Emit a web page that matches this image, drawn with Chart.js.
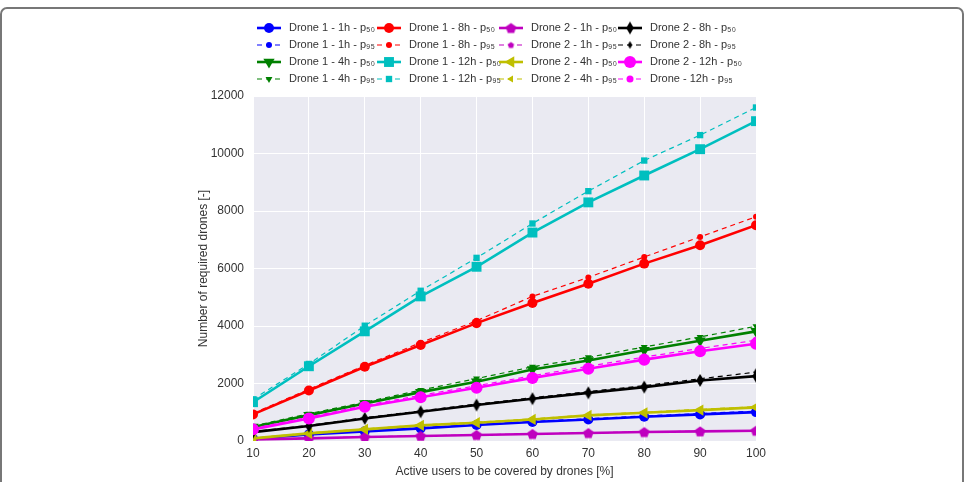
<!DOCTYPE html>
<html>
<head>
<meta charset="utf-8">
<script src="https://cdn.jsdelivr.net/npm/chart.js@4.4.1/dist/chart.umd.min.js"></script>
<style>
html,body{margin:0;padding:0;background:#fff;}
#wrap{position:relative;width:964px;height:482px;overflow:hidden;}
#frame{position:absolute;left:0;top:7px;width:964px;height:520px;box-sizing:border-box;border:2px solid #777;border-radius:7px;pointer-events:none;}
canvas{position:absolute;left:0;top:0;}
</style>
</head>
<body>
<div id="wrap"><canvas id="c" width="964" height="482"></canvas><div id="frame"></div></div>
<script>
// ---- data ----
const xValues = [10, 20, 30, 40, 50, 60, 70, 80, 90, 100];
const yTicks = [0, 2000, 4000, 6000, 8000, 10000, 12000];

const d1_1h_p50 = [80, 230, 335, 440, 555, 660, 750, 845, 925, 1005];
const d1_1h_p95 = [90, 245, 350, 460, 575, 680, 775, 870, 955, 1040];
const d1_4h_p50 = [485, 900, 1305, 1700, 2060, 2485, 2800, 3155, 3490, 3815];
const d1_4h_p95 = [520, 950, 1350, 1770, 2170, 2580, 2910, 3270, 3620, 3990];
const d1_8h_p50 = [925, 1755, 2580, 3340, 4100, 4800, 5470, 6170, 6810, 7505];
const d1_8h_p95 = [960, 1800, 2630, 3420, 4180, 5030, 5690, 6400, 7100, 7800];
const d1_12h_p50 = [1350, 2600, 3815, 5030, 6060, 7250, 8300, 9235, 10150, 11125];
const d1_12h_p95 = [1450, 2680, 4010, 5225, 6370, 7565, 8690, 9755, 10640, 11600];
const d2_1h_p50 = [58, 92, 140, 175, 210, 245, 278, 312, 335, 358];
const d2_1h_p95 = [60, 95, 143, 178, 213, 248, 282, 316, 340, 362];
const d2_4h_p50 = [92, 265, 405, 545, 635, 750, 890, 980, 1075, 1170];
const d2_4h_p95 = [100, 280, 420, 560, 655, 770, 905, 1000, 1100, 1190];
const d2_8h_p50 = [310, 520, 785, 1015, 1250, 1470, 1675, 1875, 2105, 2255];
const d2_8h_p95 = [330, 545, 810, 1045, 1285, 1505, 1720, 1925, 2165, 2395];
const d2_12h_p50 = [405, 785, 1190, 1525, 1850, 2195, 2510, 2830, 3120, 3385];
const d2_12h_p95 = [440, 830, 1235, 1590, 1920, 2270, 2600, 2920, 3220, 3505];

// legend labels in visual (row-major) order
const legendLabels = [
  'Drone 1 - 1h - p₅₀', 'Drone 1 - 8h - p₅₀', 'Drone 2 - 1h - p₅₀', 'Drone 2 - 8h - p₅₀',
  'Drone 1 - 1h - p₉₅', 'Drone 1 - 8h - p₉₅', 'Drone 2 - 1h - p₉₅', 'Drone 2 - 8h - p₉₅',
  'Drone 1 - 4h - p₅₀', 'Drone 1 - 12h - p₅₀', 'Drone 2 - 4h - p₅₀', 'Drone 2 - 12h - p₅₀',
  'Drone 1 - 4h - p₉₅', 'Drone 1 - 12h - p₉₅', 'Drone 2 - 4h - p₉₅', 'Drone - 12h - p₉₅'
];

// ---- custom marker images ----
function polyCanvas(points, w, h, color) {
  const c = document.createElement('canvas');
  c.width = w; c.height = h;
  const g = c.getContext('2d');
  g.fillStyle = color;
  g.beginPath();
  points.forEach((p, i) => i ? g.lineTo(p[0], p[1]) : g.moveTo(p[0], p[1]));
  g.closePath();
  g.fill();
  return c;
}
function pentagon(r, color) {
  const s = Math.ceil(2 * r + 2), cx = s / 2, cy = s / 2 + r * 0.08;
  const pts = [];
  for (let i = 0; i < 5; i++) {
    const a = -Math.PI / 2 + i * 2 * Math.PI / 5;
    pts.push([cx + r * Math.cos(a), cy + r * Math.sin(a)]);
  }
  return polyCanvas(pts, s, s, color);
}
function thinDiamond(h, w, color) {
  const W = Math.ceil(w + 2), H = Math.ceil(h + 2);
  const cx = W / 2, cy = H / 2;
  return polyCanvas([[cx, cy - h / 2], [cx + w / 2, cy], [cx, cy + h / 2], [cx - w / 2, cy]], W, H, color);
}

const C = {
  blue: '#0000FF', red: '#FF0000', green: '#008000', cyan: '#00BFBF',
  purple: '#BF00BF', yellow: '#BFBF00', black: '#000000', magenta: '#FF00FF'
};

function mk(label, data, color, isP50, style, rotation, radiusP50, radiusP95) {
  return {
    label: label,
    data: xValues.map((x, i) => ({ x: x, y: data[i] })),
    borderColor: color,
    backgroundColor: color,
    pointBackgroundColor: color,
    pointBorderColor: color,
    pointBorderWidth: 0,
    borderWidth: isP50 ? 2.6 : 1.2,
    borderDash: isP50 ? [] : [5, 4],
    pointStyle: style,
    rotation: rotation || 0,
    pointRadius: isP50 ? radiusP50 : radiusP95,
    pointHoverRadius: isP50 ? radiusP50 : radiusP95,
    tension: 0,
    fill: false
  };
}

const datasets = [
  mk('Drone 1 - 1h - p₅₀', d1_1h_p50, C.blue, true, 'circle', 0, 5, 3),
  mk('Drone 1 - 1h - p₉₅', d1_1h_p95, C.blue, false, 'circle', 0, 5, 3),
  mk('Drone 1 - 4h - p₅₀', d1_4h_p50, C.green, true, 'triangle', 180, 6.5, 4),
  mk('Drone 1 - 4h - p₉₅', d1_4h_p95, C.green, false, 'triangle', 180, 6.5, 4),
  mk('Drone 1 - 8h - p₅₀', d1_8h_p50, C.red, true, 'circle', 0, 5, 3),
  mk('Drone 1 - 8h - p₉₅', d1_8h_p95, C.red, false, 'circle', 0, 5, 3),
  mk('Drone 1 - 12h - p₅₀', d1_12h_p50, C.cyan, true, 'rect', 0, 7, 4.5),
  mk('Drone 1 - 12h - p₉₅', d1_12h_p95, C.cyan, false, 'rect', 0, 7, 4.5),
  mk('Drone 2 - 1h - p₅₀', d2_1h_p50, C.purple, true, pentagon(5.5, C.purple), 0, 5, 3),
  mk('Drone 2 - 1h - p₉₅', d2_1h_p95, C.purple, false, pentagon(3.3, C.purple), 0, 5, 3),
  mk('Drone 2 - 4h - p₅₀', d2_4h_p50, C.yellow, true, 'triangle', 270, 6.5, 4),
  mk('Drone 2 - 4h - p₉₅', d2_4h_p95, C.yellow, false, 'triangle', 270, 6.5, 4),
  mk('Drone 2 - 8h - p₅₀', d2_8h_p50, C.black, true, thinDiamond(13, 7.5, C.black), 0, 6, 4),
  mk('Drone 2 - 8h - p₉₅', d2_8h_p95, C.black, false, thinDiamond(8, 4.5, C.black), 0, 6, 4),
  mk('Drone 2 - 12h - p₅₀', d2_12h_p50, C.magenta, true, 'circle', 0, 6, 3.5),
  mk('Drone - 12h - p₉₅', d2_12h_p95, C.magenta, false, 'circle', 0, 6, 3.5)
];
datasets.forEach((d, i) => { d.order = -i; });

const FONT = '"Liberation Sans", Arial, sans-serif';
const TEXT = '#333333';

const bgPlugin = {
  id: 'bg',
  beforeDraw(chart) {
    const a = chart.chartArea, ctx = chart.ctx;
    ctx.save();
    ctx.fillStyle = '#EAEAF2';
    ctx.fillRect(a.left, a.top, a.right - a.left, a.bottom - a.top);
    ctx.restore();
  }
};

const legendPlugin = {
  id: 'gridLegend',
  afterDraw(chart) {
    const ctx = chart.ctx;
    const lineX = [257, 377, 499, 618];
    const rowsY = [28, 45, 62, 79];
    ctx.save();
    legendLabels.forEach((lab, k) => {
      const ds = chart.data.datasets.find(d => d.label === lab);
      const col = k % 4, row = Math.floor(k / 4);
      const x0 = lineX[col], y = rowsY[row];
      ctx.strokeStyle = ds.borderColor;
      ctx.lineWidth = ds.borderWidth;
      ctx.setLineDash(ds.borderDash);
      ctx.beginPath();
      ctx.moveTo(x0, y); ctx.lineTo(x0 + 24, y);
      ctx.stroke();
      ctx.setLineDash([]);
      ctx.fillStyle = ds.pointBackgroundColor;
      Chart.helpers.drawPoint(ctx, {
        pointStyle: ds.pointStyle, rotation: ds.rotation,
        radius: ds.pointRadius, borderWidth: 0
      }, x0 + 12, y);
      ctx.fillStyle = TEXT;
      ctx.font = '11px ' + FONT;
      ctx.textBaseline = 'middle';
      ctx.textAlign = 'left';
      ctx.fillText(lab, x0 + 32, y);
    });
    ctx.restore();
  }
};

new Chart(document.getElementById('c'), {
  type: 'line',
  data: { datasets: datasets },
  options: {
    responsive: false,
    animation: false,
    devicePixelRatio: 1,
    layout: { padding: { left: 186, right: 208, top: 96, bottom: 1 } },
    plugins: { legend: { display: false }, tooltip: { enabled: false } },
    elements: { line: { borderCapStyle: 'butt' } },
    scales: {
      x: {
        type: 'linear', min: 10, max: 100,
        afterBuildTicks(s) { s.ticks = xValues.map(v => ({ value: v })); },
        afterFit(s) { s.height = 40; },
        grid: { color: '#FFFFFF', lineWidth: 1, drawTicks: false },
        border: { display: false },
        ticks: { color: TEXT, font: { family: FONT, size: 12 }, padding: 5, maxRotation: 0,
                 callback: v => String(v) },
        title: { display: true, text: 'Active users to be covered by drones [%]', color: TEXT,
                 font: { family: FONT, size: 12 }, padding: { top: 1, bottom: 2 } }
      },
      y: {
        type: 'linear', min: 0, max: 12000,
        afterBuildTicks(s) { s.ticks = yTicks.map(v => ({ value: v })); },
        afterFit(s) { s.width = 253 - 186; },
        grid: { color: '#FFFFFF', lineWidth: 1, drawTicks: false },
        border: { display: false },
        ticks: { color: TEXT, font: { family: FONT, size: 12 }, padding: 9,
                 callback: v => String(v) },
        title: { display: true, text: 'Number of required drones [-]', color: TEXT,
                 font: { family: FONT, size: 12 }, padding: { top: 10, bottom: 4 } }
      }
    }
  },
  plugins: [bgPlugin, legendPlugin]
});
</script>
</body>
</html>
